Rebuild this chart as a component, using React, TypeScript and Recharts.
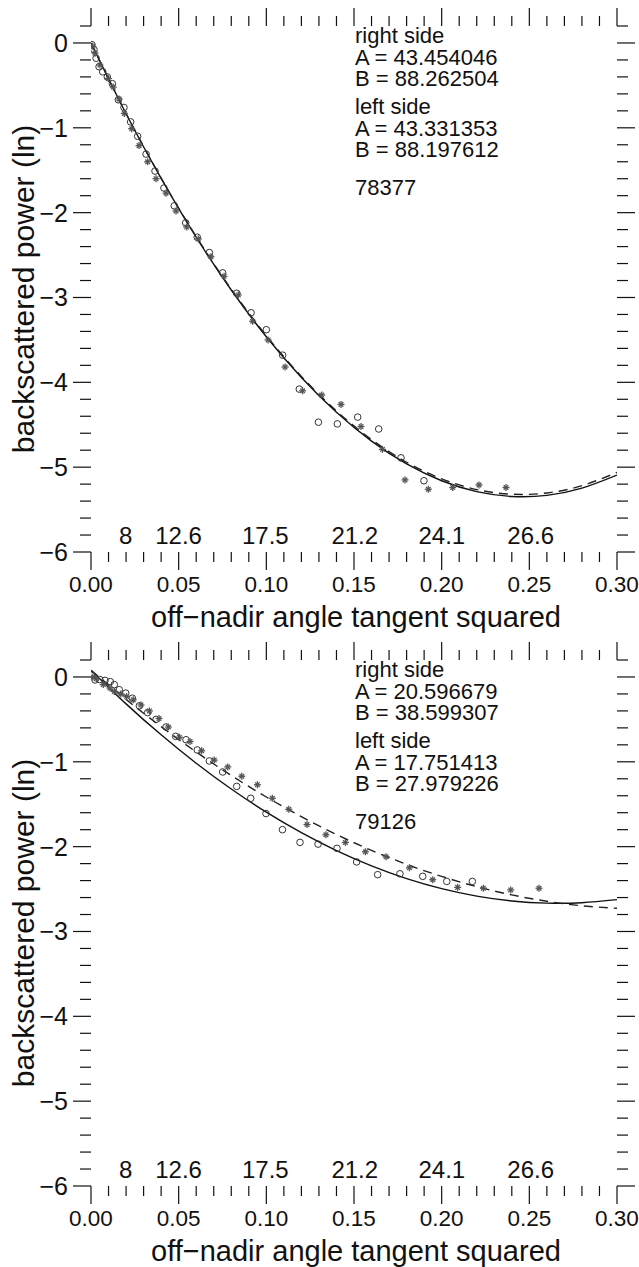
import React from 'react';
import { ComposedChart, Line, Scatter, XAxis, YAxis } from 'recharts';

const W = 639;
const PANEL_H = 634;
const FONT = '"Liberation Sans", Arial, Helvetica, sans-serif';
const INK = '#111';

// off-nadir angle labels (degrees), placed at tan^2(angle)
const angleLabels = [8, 12.6, 17.5, 21.2, 24.1, 26.6];

// sample positions of the fitted curves
const fitX = [0, 0.02, 0.04, 0.06, 0.08, 0.1, 0.12, 0.14, 0.16, 0.18, 0.2, 0.22, 0.24, 0.26, 0.28, 0.3];

// ---- orbit 78377 ----
const fitRight1 = [0, -0.834, -1.597, -2.290, -2.912, -3.463, -3.944, -4.354, -4.693, -4.962, -5.160, -5.288, -5.345, -5.332, -5.247, -5.093];
const fitLeft1 = [0, -0.831, -1.592, -2.282, -2.902, -3.451, -3.930, -4.338, -4.675, -4.942, -5.138, -5.264, -5.319, -5.304, -5.218, -5.062];

const right1X = [0.0005, 0.0017, 0.0029, 0.0046, 0.0067, 0.0093, 0.0122, 0.0156, 0.0188, 0.0226, 0.0266, 0.0314, 0.0365, 0.0416, 0.0475, 0.054, 0.0606, 0.0675, 0.0751, 0.0831, 0.0913, 0.1, 0.1093, 0.1188, 0.1297, 0.1405, 0.1521, 0.1641, 0.1768, 0.1899];
const right1Y = [-0.02, -0.08, -0.18, -0.28, -0.34, -0.4, -0.48, -0.67, -0.76, -0.93, -1.1, -1.31, -1.51, -1.71, -1.92, -2.12, -2.29, -2.47, -2.71, -2.95, -3.18, -3.38, -3.68, -4.08, -4.47, -4.49, -4.41, -4.55, -4.89, -5.16];
const left1X = [0.001, 0.0023, 0.0051, 0.0099, 0.0127, 0.016, 0.019, 0.0232, 0.0274, 0.0323, 0.0371, 0.0428, 0.0485, 0.0546, 0.0612, 0.0684, 0.0759, 0.084, 0.0922, 0.101, 0.1107, 0.1207, 0.1316, 0.1426, 0.154, 0.1662, 0.1791, 0.1924, 0.2063, 0.2213, 0.2367];
const left1Y = [-0.04, -0.12, -0.26, -0.42, -0.52, -0.66, -0.83, -1.01, -1.21, -1.4, -1.6, -1.77, -1.98, -2.17, -2.31, -2.52, -2.75, -2.97, -3.28, -3.5, -3.82, -4.1, -4.15, -4.26, -4.52, -4.79, -5.15, -5.26, -5.24, -5.21, -5.24];

const rightNotes1 = ['right side', 'A = 43.454046', 'B = 88.262504'];
const leftNotes1 = ['left side', 'A = 43.331353', 'B = 88.197612'];
const orbit1 = '78377';

// ---- orbit 79126 ----
const fitRight2 = [0.08, -0.317, -0.682, -1.017, -1.321, -1.594, -1.836, -2.047, -2.227, -2.377, -2.495, -2.583, -2.640, -2.666, -2.661, -2.625];
const fitLeft2 = [0.08, -0.264, -0.585, -0.884, -1.161, -1.415, -1.647, -1.857, -2.044, -2.209, -2.351, -2.471, -2.569, -2.644, -2.697, -2.727];

const right2X = [0.0005, 0.0023, 0.005, 0.008, 0.011, 0.0133, 0.0161, 0.0198, 0.0236, 0.0276, 0.0323, 0.0371, 0.0428, 0.0483, 0.0542, 0.0606, 0.0675, 0.0751, 0.0831, 0.0911, 0.0998, 0.1092, 0.1192, 0.1295, 0.1403, 0.1515, 0.1635, 0.1762, 0.1892, 0.2029, 0.2175];
const right2Y = [0.02, -0.035, -0.03, -0.04, -0.055, -0.09, -0.15, -0.19, -0.25, -0.34, -0.42, -0.5, -0.59, -0.7, -0.74, -0.86, -0.99, -1.12, -1.29, -1.43, -1.61, -1.8, -1.95, -1.97, -2.02, -2.18, -2.33, -2.32, -2.35, -2.41, -2.41];
const left2X = [0.001, 0.003, 0.007, 0.0108, 0.0133, 0.017, 0.0203, 0.0241, 0.0285, 0.0333, 0.0388, 0.0441, 0.0504, 0.0565, 0.0631, 0.0703, 0.078, 0.086, 0.0949, 0.1034, 0.1128, 0.1232, 0.134, 0.1451, 0.1565, 0.1683, 0.1816, 0.1949, 0.2091, 0.2238, 0.2394, 0.2555];
const left2Y = [0, -0.02, -0.09, -0.13, -0.17, -0.2, -0.23, -0.27, -0.33, -0.4, -0.49, -0.59, -0.71, -0.76, -0.87, -0.98, -1.06, -1.17, -1.27, -1.43, -1.56, -1.74, -1.86, -1.95, -2.06, -2.12, -2.25, -2.39, -2.48, -2.49, -2.51, -2.49];

const rightNotes2 = ['right side', 'A = 20.596679', 'B = 38.599307'];
const leftNotes2 = ['left side', 'A = 17.751413', 'B = 27.979226'];
const orbit2 = '79126';

const xTicks = Array.from({ length: 31 }, (_, i) => i / 100);
const yTicks = Array.from({ length: 32 }, (_, i) => (i - 30) / 5);
const degTicks = angleLabels.map((d) => Math.pow(Math.tan((d * Math.PI) / 180), 2));

const zip = (xs: number[], ys: number[]) => xs.map((x, i) => ({ x, y: ys[i] }));

const isMajorX = (v: number) => Math.abs(v * 20 - Math.round(v * 20)) < 1e-6;
const isMajorY = (v: number) => Math.abs(v - Math.round(v)) < 1e-6;
const fmtY = (v: number) => (v < 0 ? '\u2212' + Math.abs(Math.round(v)) : String(Math.round(v)));

const BottomTick = ({ x, y, payload }: any) => {
  const major = isMajorX(payload.value);
  return (
    <g>
      <line x1={x} x2={x} y1={y} y2={y + (major ? 18 : 10)} stroke={INK} strokeWidth={1.2} />
      {major && (
        <text x={x} y={y + 40} textAnchor="middle" fontSize={22.5} fontFamily={FONT} fill={INK}>
          {payload.value.toFixed(2)}
        </text>
      )}
    </g>
  );
};

const TopTick = ({ x, y, payload }: any) => {
  const major = isMajorX(payload.value);
  return <line x1={x} x2={x} y1={y} y2={y - (major ? 18 : 10)} stroke={INK} strokeWidth={1.2} />;
};

const LeftTick = ({ x, y, payload }: any) => {
  const major = isMajorY(payload.value);
  return (
    <g>
      <line x1={x} x2={x - (major ? 18 : 11)} y1={y} y2={y} stroke={INK} strokeWidth={1.2} />
      {major && (
        <text x={x - 23} y={y + 9} textAnchor="end" fontSize={25} fontFamily={FONT} fill={INK}>
          {fmtY(payload.value)}
        </text>
      )}
    </g>
  );
};

const RightTick = ({ x, y, payload }: any) => {
  const major = isMajorY(payload.value);
  return <line x1={x} x2={x + (major ? 18 : 11)} y1={y} y2={y} stroke={INK} strokeWidth={1.2} />;
};

const DegTick = ({ x, payload, index }: any) => (
  <text x={x} y={544} textAnchor="middle" fontSize={24} fontFamily={FONT} fill={INK}>
    {angleLabels[index] ?? payload.value}
  </text>
);

const Ring = ({ cx, cy }: any) => (
  <circle cx={cx} cy={cy} r={3.3} fill="none" stroke="#333" strokeWidth={1} />
);

const Star = ({ cx, cy }: any) => (
  <g stroke="#555" strokeWidth={1.3}>
    <line x1={cx - 3.5} x2={cx + 3.5} y1={cy} y2={cy} />
    <line x1={cx} x2={cx} y1={cy - 3.5} y2={cy + 3.5} />
    <line x1={cx - 2.3} x2={cx + 2.3} y1={cy - 2.3} y2={cy + 2.3} />
    <line x1={cx - 2.3} x2={cx + 2.3} y1={cy + 2.3} y2={cy - 2.3} />
  </g>
);

// one text block, lines set with tight leading like the original
const NoteBlock = ({ lines, y }: { lines: string[]; y: number }) => (
  <text x={355} y={y} fontSize={22} fontFamily={FONT} fill={INK}>
    {lines.map((t, i) => (
      <tspan key={i} x={355} dy={i === 0 ? 0 : 21.5}>
        {t}
      </tspan>
    ))}
  </text>
);

interface PanelProps {
  top: number;
  fitRight: number[];
  fitLeft: number[];
  right: { x: number; y: number }[];
  left: { x: number; y: number }[];
  rightNotes: string[];
  leftNotes: string[];
  orbit: string;
}

function Panel({ top, fitRight, fitLeft, right, left, rightNotes, leftNotes, orbit }: PanelProps) {
  const solid = zip(fitX, fitRight);
  const dashed = zip(fitX, fitLeft);
  return (
    <div style={{ position: 'absolute', left: 0, top, width: W, height: PANEL_H }}>
      <ComposedChart width={W} height={PANEL_H} margin={{ top: 0, right: 0, bottom: 0, left: 0 }}>
        <XAxis xAxisId="b" dataKey="x" type="number" domain={[0, 0.3]} ticks={xTicks} interval={0}
          orientation="bottom" height={82} axisLine={false} tickLine={false} tickSize={0} tickMargin={0}
          tick={BottomTick} allowDataOverflow />
        <XAxis xAxisId="t" dataKey="x" type="number" domain={[0, 0.3]} ticks={xTicks} interval={0}
          orientation="top" height={26} axisLine={false} tickLine={false} tickSize={0} tickMargin={0}
          tick={TopTick} allowDataOverflow />
        <XAxis xAxisId="deg" dataKey="x" type="number" domain={[0, 0.3]} ticks={degTicks} interval={0}
          orientation="bottom" mirror axisLine={false} tickLine={false} tickSize={0} tickMargin={0}
          tick={DegTick} allowDataOverflow />
        <YAxis yAxisId="l" dataKey="y" type="number" domain={[-6, 0.2]} ticks={yTicks} interval={0}
          orientation="left" width={91} axisLine={false} tickLine={false} tickSize={0} tickMargin={0}
          tick={LeftTick} allowDataOverflow />
        <YAxis yAxisId="r" dataKey="y" type="number" domain={[-6, 0.2]} ticks={yTicks} interval={0}
          orientation="right" width={22} axisLine={false} tickLine={false} tickSize={0} tickMargin={0}
          tick={RightTick} allowDataOverflow />
        <Line xAxisId="b" yAxisId="l" data={solid} dataKey="y" type="natural" stroke="#111"
          strokeWidth={1.4} dot={false} activeDot={false} isAnimationActive={false} />
        <Line xAxisId="b" yAxisId="l" data={dashed} dataKey="y" type="natural" stroke="#222"
          strokeWidth={1.4} strokeDasharray="9 6" dot={false} activeDot={false} isAnimationActive={false} />
        <Scatter xAxisId="b" yAxisId="l" data={right} dataKey="y" shape={Ring} isAnimationActive={false} />
        <Scatter xAxisId="b" yAxisId="l" data={left} dataKey="y" shape={Star} isAnimationActive={false} />
      </ComposedChart>
      <svg width={W} height={PANEL_H} style={{ position: 'absolute', left: 0, top: 0, pointerEvents: 'none' }}>
        <text transform="translate(34,289) rotate(-90)" textAnchor="middle" fontSize={30} fontFamily={FONT} fill={INK}>
          backscattered power (ln)
        </text>
        <text x={356} y={627} textAnchor="middle" fontSize={29} fontFamily={FONT} fill={INK}>
          off{'\u2212'}nadir angle tangent squared
        </text>
        <NoteBlock lines={rightNotes} y={43} />
        <NoteBlock lines={leftNotes} y={114} />
        <NoteBlock lines={[orbit]} y={195} />
      </svg>
    </div>
  );
}

export default function App() {
  return (
    <div style={{ position: 'absolute', left: 0, top: 0, width: W, height: 1267, background: '#fff', overflow: 'hidden' }}>
      <Panel top={0} fitRight={fitRight1} fitLeft={fitLeft1} right={zip(right1X, right1Y)} left={zip(left1X, left1Y)}
        rightNotes={rightNotes1} leftNotes={leftNotes1} orbit={orbit1} />
      <Panel top={634} fitRight={fitRight2} fitLeft={fitLeft2} right={zip(right2X, right2Y)} left={zip(left2X, left2Y)}
        rightNotes={rightNotes2} leftNotes={leftNotes2} orbit={orbit2} />
    </div>
  );
}
